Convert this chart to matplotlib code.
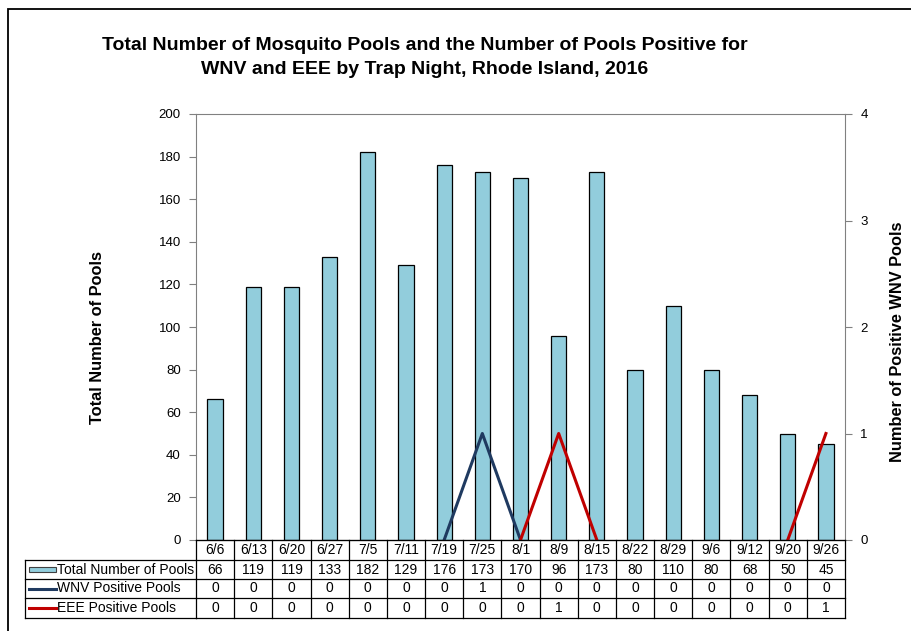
import matplotlib.pyplot as plt
import matplotlib.transforms as mtransforms
from matplotlib.patches import Rectangle
from matplotlib.lines import Line2D
import numpy as np

plt.rcParams['font.family'] = ['Liberation Sans', 'DejaVu Sans']

dates = ['6/6', '6/13', '6/20', '6/27', '7/5', '7/11', '7/19', '7/25', '8/1',
         '8/9', '8/15', '8/22', '8/29', '9/6', '9/12', '9/20', '9/26']
total_pools = [66, 119, 119, 133, 182, 129, 176, 173, 170, 96, 173, 80, 110, 80, 68, 50, 45]
wnv_pools = [0, 0, 0, 0, 0, 0, 0, 1, 0, 0, 0, 0, 0, 0, 0, 0, 0]
eee_pools = [0, 0, 0, 0, 0, 0, 0, 0, 0, 1, 0, 0, 0, 0, 0, 0, 1]

row_names = ['Total Number of Pools', 'WNV Positive Pools', 'EEE Positive Pools']
bar_color = '#92CDDC'
wnv_color = '#1F3A60'
eee_color = '#C00000'
grid_gray = '#808080'


def visible_segments(vals):
    # only draw the line around non-zero points (zeros sit on the axis otherwise)
    v = np.array(vals, dtype=float)
    keep = np.zeros(len(v), dtype=bool)
    for i in range(len(v)):
        if v[i] != 0 or (i > 0 and v[i - 1] != 0) or (i < len(v) - 1 and v[i + 1] != 0):
            keep[i] = True
    out = v.copy()
    out[~keep] = np.nan
    return out


W, H = 911, 631
fig = plt.figure(figsize=(W / 100, H / 100), dpi=100)

# outer frame
fig.patches.append(Rectangle((8 / W, -0.1), 1.2, 1 - 9 / H + 0.1, transform=fig.transFigure,
                             fill=False, edgecolor='black', linewidth=1.3))

left, right, top, bottom = 196, 845, 114, 540
ax = fig.add_axes([left / W, 1 - bottom / H, (right - left) / W, (bottom - top) / H])
x = np.arange(len(dates))

ax.bar(x, total_pools, width=0.4, color=bar_color, edgecolor='black', linewidth=0.9, zorder=2)
ax.set_xlim(-0.5, len(dates) - 0.5)
ax.set_ylim(0, 200)
ax.set_yticks(np.arange(0, 201, 20))
ax.set_xticks([])
ax.tick_params(axis='y', direction='out', length=5, color=grid_gray, labelsize=9.5, pad=6)
for s in ['left', 'top']:
    ax.spines[s].set_color(grid_gray)
ax.spines['right'].set_visible(False)
ax.spines['bottom'].set_color('black')

ax2 = ax.twinx()
ax2.plot(x, visible_segments(wnv_pools), color=wnv_color, linewidth=2.2, zorder=3)
ax2.plot(x, visible_segments(eee_pools), color=eee_color, linewidth=2.2, zorder=3)
ax2.set_ylim(0, 4)
ax2.set_yticks([0, 1, 2, 3, 4])
ax2.tick_params(axis='y', direction='out', length=5, color=grid_gray, labelsize=9.5, pad=6)
for s in ['left', 'top', 'bottom']:
    ax2.spines[s].set_visible(False)
ax2.spines['right'].set_color(grid_gray)

# titles and axis labels
fig.text(425 / W, 1 - 46 / H, 'Total Number of Mosquito Pools and the Number of Pools Positive for',
         ha='center', va='center', fontsize=14, fontweight='bold')
fig.text(425 / W, 1 - 70 / H, 'WNV and EEE by Trap Night, Rhode Island, 2016',
         ha='center', va='center', fontsize=14, fontweight='bold')
fig.text(98 / W, 1 - 337 / H, 'Total Number of Pools', rotation=90, ha='center', va='center',
         fontsize=11.8, fontweight='bold')
fig.text(898 / W, 1 - 342 / H, 'Number of Positive WNV Pools', rotation=90, ha='center', va='center',
         fontsize=11.8, fontweight='bold')

# data table below the axis
trans = mtransforms.blended_transform_factory(ax.transData, fig.transFigure)
ftrans = fig.transFigure
row_px = [540, 560, 579, 598, 618]
row_y = [1 - p / H for p in row_px]
xmin, xmax = -0.5, len(dates) - 0.5
label_left = 25 / W
axis_left = left / W
lw_in = 0.9
table_fs = 10

# horizontal lines
for k, yy in enumerate(row_y):
    fig.add_artist(Line2D([xmin, xmax], [yy, yy], transform=trans, color='black', lw=lw_in))
    if k >= 1:
        fig.add_artist(Line2D([label_left, axis_left], [yy, yy], transform=ftrans, color='black', lw=lw_in))
# vertical lines between columns
for b in np.arange(xmin, xmax + 0.01, 1.0):
    fig.add_artist(Line2D([b, b], [row_y[0], row_y[-1]], transform=trans, color='black', lw=lw_in))
fig.add_artist(Line2D([label_left, label_left], [row_y[1], row_y[-1]], transform=ftrans,
                      color='black', lw=lw_in))

# date header row
for i, d in enumerate(dates):
    fig.text(i, (row_y[0] + row_y[1]) / 2, d, transform=trans, ha='center', va='center',
             fontsize=table_fs)

table_rows = [total_pools, wnv_pools, eee_pools]
for r, vals in enumerate(table_rows):
    yc = (row_y[r + 1] + row_y[r + 2]) / 2
    for i, v in enumerate(vals):
        fig.text(i, yc, str(v), transform=trans, ha='center', va='center', fontsize=table_fs)
    fig.text(57 / W, yc, row_names[r], transform=ftrans, ha='left', va='center', fontsize=table_fs)

# legend keys in the label column
y0 = (row_y[1] + row_y[2]) / 2
fig.patches.append(Rectangle((29 / W, y0 - 2.5 / H), 27 / W, 5 / H, transform=ftrans,
                             facecolor=bar_color, edgecolor='#404040', linewidth=0.8))
for r, c in [(1, wnv_color), (2, eee_color)]:
    yc = (row_y[r + 1] + row_y[r + 2]) / 2
    fig.add_artist(Line2D([29 / W, 56 / W], [yc, yc], transform=ftrans, color=c, lw=2.2))

fig.savefig('out.png', dpi=100)
